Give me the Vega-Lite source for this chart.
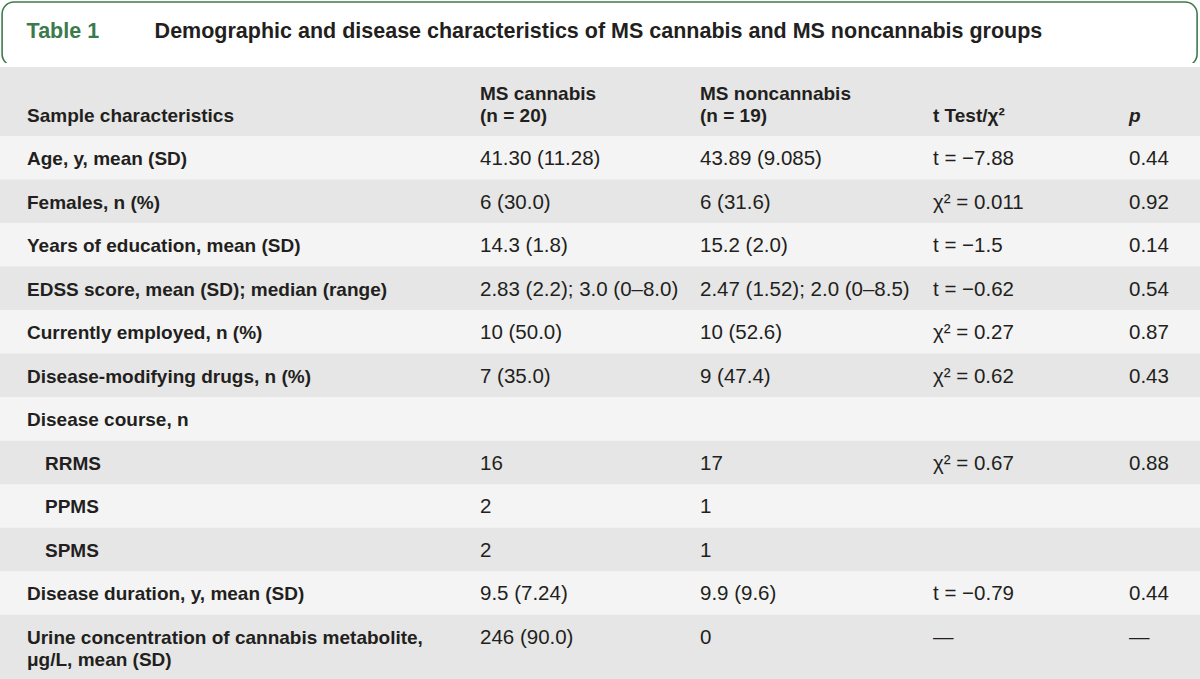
{
  "$schema": "https://vega.github.io/schema/vega-lite/v6.json",
  "padding": {"top": 1, "left": 0, "right": 0, "bottom": 0},
  "background": "#ffffff",
  "spacing": 0,
  "center": true,
  "config": {
    "view": {"stroke": null, "fill": "#e6e6e6"},
    "text": {"font": "Liberation Sans", "color": "#231f20"}
  },
  "datasets": {
    "title": [
      {"part": "label", "text": "Table 1"},
      {"part": "title", "text": "Demographic and disease characteristics of MS cannabis and MS noncannabis groups"}
    ],
    "header": [
      {"col": 0, "text": "Sample characteristics"},
      {"col": 1, "text": "MS cannabis\n(n = 20)"},
      {"col": 2, "text": "MS noncannabis\n(n = 19)"},
      {"col": 3, "text": "t Test/χ²"},
      {"col": 4, "text": "p"}
    ],
    "cells": [
      {"row": 1, "col": 0, "text": "Age, y, mean (SD)"},
      {"row": 1, "col": 1, "text": "41.30 (11.28)"},
      {"row": 1, "col": 2, "text": "43.89 (9.085)"},
      {"row": 1, "col": 3, "text": "t = −7.88"},
      {"row": 1, "col": 4, "text": "0.44"},
      {"row": 2, "col": 0, "text": "Females, n (%)"},
      {"row": 2, "col": 1, "text": "6 (30.0)"},
      {"row": 2, "col": 2, "text": "6 (31.6)"},
      {"row": 2, "col": 3, "text": "χ² = 0.011"},
      {"row": 2, "col": 4, "text": "0.92"},
      {"row": 3, "col": 0, "text": "Years of education, mean (SD)"},
      {"row": 3, "col": 1, "text": "14.3 (1.8)"},
      {"row": 3, "col": 2, "text": "15.2 (2.0)"},
      {"row": 3, "col": 3, "text": "t = −1.5"},
      {"row": 3, "col": 4, "text": "0.14"},
      {"row": 4, "col": 0, "text": "EDSS score, mean (SD); median (range)"},
      {"row": 4, "col": 1, "text": "2.83 (2.2); 3.0 (0–8.0)"},
      {"row": 4, "col": 2, "text": "2.47 (1.52); 2.0 (0–8.5)"},
      {"row": 4, "col": 3, "text": "t = −0.62"},
      {"row": 4, "col": 4, "text": "0.54"},
      {"row": 5, "col": 0, "text": "Currently employed, n (%)"},
      {"row": 5, "col": 1, "text": "10 (50.0)"},
      {"row": 5, "col": 2, "text": "10 (52.6)"},
      {"row": 5, "col": 3, "text": "χ² = 0.27"},
      {"row": 5, "col": 4, "text": "0.87"},
      {"row": 6, "col": 0, "text": "Disease-modifying drugs, n (%)"},
      {"row": 6, "col": 1, "text": "7 (35.0)"},
      {"row": 6, "col": 2, "text": "9 (47.4)"},
      {"row": 6, "col": 3, "text": "χ² = 0.62"},
      {"row": 6, "col": 4, "text": "0.43"},
      {"row": 7, "col": 0, "text": "Disease course, n"},
      {"row": 8, "col": 0, "text": "RRMS", "group": "Disease course, n"},
      {"row": 8, "col": 1, "text": "16"},
      {"row": 8, "col": 2, "text": "17"},
      {"row": 8, "col": 3, "text": "χ² = 0.67"},
      {"row": 8, "col": 4, "text": "0.88"},
      {"row": 9, "col": 0, "text": "PPMS", "group": "Disease course, n"},
      {"row": 9, "col": 1, "text": "2"},
      {"row": 9, "col": 2, "text": "1"},
      {"row": 10, "col": 0, "text": "SPMS", "group": "Disease course, n"},
      {"row": 10, "col": 1, "text": "2"},
      {"row": 10, "col": 2, "text": "1"},
      {"row": 11, "col": 0, "text": "Disease duration, y, mean (SD)"},
      {"row": 11, "col": 1, "text": "9.5 (7.24)"},
      {"row": 11, "col": 2, "text": "9.9 (9.6)"},
      {"row": 11, "col": 3, "text": "t = −0.79"},
      {"row": 11, "col": 4, "text": "0.44"},
      {"row": 12, "col": 0, "text": "Urine concentration of cannabis metabolite,\nμg/L, mean (SD)"},
      {"row": 12, "col": 1, "text": "246 (90.0)"},
      {"row": 12, "col": 2, "text": "0"},
      {"row": 12, "col": 3, "text": "—"},
      {"row": 12, "col": 4, "text": "—"}
    ]
  },
  "vconcat": [
    {
      "width": 1195,
      "height": 64,
      "view": {
        "fill": "#ffffff",
        "stroke": {
          "gradient": "linear", "x1": 0, "y1": 0, "x2": 0, "y2": 1,
          "stops": [
            {"offset": 0, "color": "#3c7a4c"},
            {"offset": 0.955, "color": "#3c7a4c"},
            {"offset": 0.96, "color": "#ffffff"},
            {"offset": 1, "color": "#ffffff"}
          ]
        },
        "strokeWidth": 1.6,
        "cornerRadius": 12
      },
      "data": {"name": "title"},
      "mark": {"type": "text", "align": "left", "baseline": "alphabetic", "dy": 4, "fontSize": 21.5, "fontWeight": "bold"},
      "encoding": {
        "x": {"field": "part", "type": "nominal", "axis": null,
              "scale": {"type": "point", "padding": 0, "domain": ["label", "title"], "range": [24.5, 152.5]}},
        "text": {"field": "text"},
        "color": {"field": "part", "type": "nominal", "legend": null,
                  "scale": {"domain": ["label", "title"], "range": ["#3c7a4c", "#231f20"]}}
      }
    },
    {
      "width": 1200,
      "height": 69,
      "data": {"name": "header"},
      "encoding": {
        "x": {"field": "col", "type": "quantitative", "axis": null,
              "scale": {"domain": [0, 1, 2, 3, 4], "range": [27, 480, 700, 933, 1129], "nice": false, "zero": false}},
        "text": {"field": "text"}
      },
      "layer": [
        {
          "transform": [{"filter": "datum.col < 4 && indexof(datum.text, '\\n') < 0"}],
          "mark": {"type": "text", "align": "left", "baseline": "alphabetic", "dy": 20, "fontSize": 19, "fontWeight": "bold"}
        },
        {
          "transform": [{"filter": "indexof(datum.text, '\\n') >= 0"}],
          "mark": {"type": "text", "align": "left", "baseline": "alphabetic", "dy": -2, "fontSize": 19, "fontWeight": "bold", "lineBreak": "\n", "lineHeight": 22}
        },
        {
          "transform": [{"filter": "datum.col == 4"}],
          "mark": {"type": "text", "align": "left", "baseline": "alphabetic", "dy": 20, "fontSize": 19, "fontWeight": "bold", "fontStyle": "italic"}
        }
      ]
    },
    {
      "width": 1200,
      "height": 544,
      "data": {"name": "cells"},
      "layer": [
        {
          "transform": [{"filter": "datum.col == 0"}],
          "mark": {"type": "rect"},
          "encoding": {
            "y": {"field": "row", "type": "ordinal", "axis": null,
                  "scale": {"paddingInner": 0, "paddingOuter": 0.25, "align": 0}},
            "fill": {"condition": {"test": "datum.row % 2 == 1", "value": "#f4f4f4"}, "value": "transparent"}
          }
        },
        {
          "transform": [{"filter": "datum.col == 0 && !datum.group"}],
          "mark": {"type": "text", "align": "left", "baseline": "alphabetic", "dy": 7.5, "fontSize": 19, "fontWeight": "bold", "lineBreak": "\n", "lineHeight": 22},
          "encoding": {
            "x": {"field": "col", "type": "quantitative", "axis": null,
                  "scale": {"domain": [0, 1, 2, 3, 4], "range": [27, 480, 700, 933, 1129], "nice": false, "zero": false}},
            "y": {"field": "row", "type": "ordinal", "axis": null},
            "text": {"field": "text"}
          }
        },
        {
          "transform": [{"filter": "datum.col == 0 && datum.group"}],
          "mark": {"type": "text", "align": "left", "baseline": "alphabetic", "dy": 7.5, "dx": 18, "fontSize": 19, "fontWeight": "bold"},
          "encoding": {
            "x": {"field": "col", "type": "quantitative", "axis": null},
            "y": {"field": "row", "type": "ordinal", "axis": null},
            "text": {"field": "text"}
          }
        },
        {
          "transform": [{"filter": "datum.col > 0"}],
          "mark": {"type": "text", "align": "left", "baseline": "alphabetic", "dy": 7.5, "fontSize": 20.5},
          "encoding": {
            "x": {"field": "col", "type": "quantitative", "axis": null},
            "y": {"field": "row", "type": "ordinal", "axis": null},
            "text": {"field": "text"}
          }
        }
      ]
    }
  ]
}
